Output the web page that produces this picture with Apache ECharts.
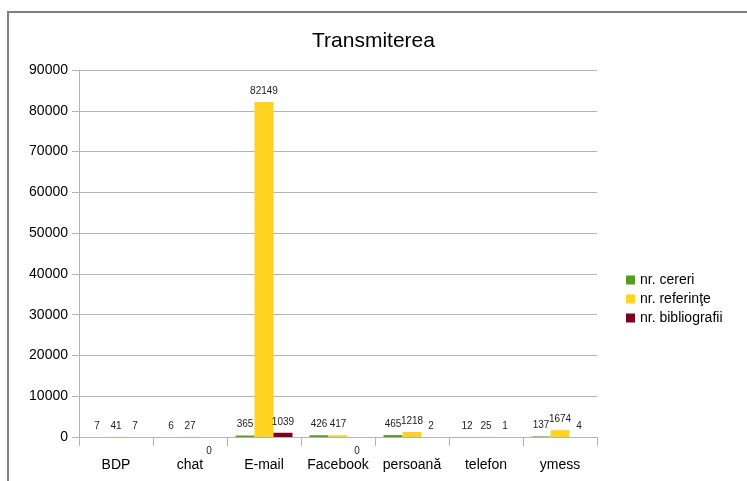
<!DOCTYPE html>
<html>
<head>
<meta charset="utf-8">
<script src="https://cdn.jsdelivr.net/npm/echarts@6/dist/echarts.min.js"></script>
<style>
  html, body { margin: 0; padding: 0; background: #fff; }
  #chart { width: 747px; height: 481px; }
</style>
</head>
<body>
<div id="chart"></div>
<script>
const categories = ['BDP', 'chat', 'E-mail', 'Facebook', 'persoană', 'telefon', 'ymess'];
const cereri = [7, 6, 365, 426, 465, 12, 137];
const referinte = [41, 27, 82149, 417, 1218, 25, 1674];
const bibliografii = [7, 0, 1039, 0, 2, 1, 4];

const font = 'Liberation Sans, Arial, sans-serif';

// LibreOffice puts the label of a zero bar under the axis
function withLabels(values) {
    return values.map(v => v === 0
        ? { value: v, label: { position: 'bottom', distance: 9 } }
        : v);
}

function makeSeries(name, values, color) {
    return {
        name: name,
        type: 'bar',
        data: withLabels(values),
        itemStyle: { color: color },
        barGap: '0%',
        barCategoryGap: '23%',
        label: {
            show: true,
            position: 'top',
            distance: 6,
            fontFamily: font,
            fontSize: 10,
            color: '#222'
        }
    };
}

const chart = echarts.init(document.getElementById('chart'), null, { renderer: 'canvas' });
chart.setOption({
    animation: false,
    title: {
        text: 'Transmiterea',
        left: 'center',
        top: 26,
        textStyle: { fontFamily: font, fontSize: 21, fontWeight: 'normal', color: '#000' }
    },
    legend: {
        orient: 'vertical',
        left: 621,
        top: 268,
        itemWidth: 9,
        itemHeight: 9,
        itemGap: 5,
        icon: 'rect',
        textStyle: { fontFamily: font, fontSize: 14, color: '#000' }
    },
    grid: { left: 79, right: 150, top: 70, bottom: 44 },
    xAxis: {
        type: 'category',
        data: categories,
        axisLine: { lineStyle: { color: '#b3b3b3' } },
        axisTick: { show: true, interval: 0, length: 9, lineStyle: { color: '#b3b3b3' } },
        axisLabel: { interval: 0, fontFamily: font, fontSize: 14, color: '#000', margin: 21 }
    },
    yAxis: {
        type: 'value',
        min: 0,
        max: 90000,
        interval: 10000,
        axisLine: { show: true, lineStyle: { color: '#b3b3b3' } },
        axisTick: { show: true, length: 7, lineStyle: { color: '#b3b3b3' } },
        axisLabel: { fontFamily: font, fontSize: 14, color: '#000', margin: 11, formatter: v => String(v) },
        splitLine: { lineStyle: { color: '#b3b3b3' } }
    },
    graphic: [{
        type: 'rect',
        shape: { x: 8, y: 12, width: 760, height: 500 },
        style: { fill: 'none', stroke: '#808080', lineWidth: 2 },
        silent: true
    }],
    series: [
        makeSeries('nr. cereri', cereri, '#579d1c'),
        makeSeries('nr. referinţe', referinte, '#ffd320'),
        makeSeries('nr. bibliografii', bibliografii, '#7e0021')
    ]
});
</script>
</body>
</html>
